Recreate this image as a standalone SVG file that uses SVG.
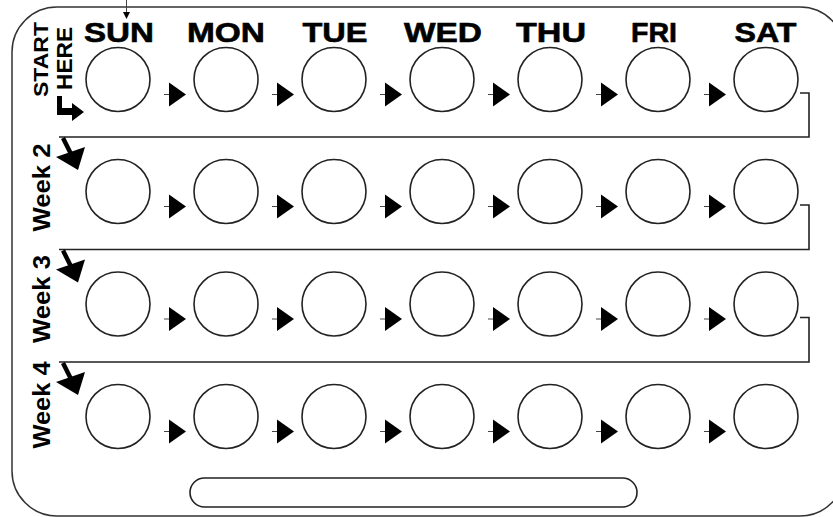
<svg xmlns="http://www.w3.org/2000/svg" xmlns:xlink="http://www.w3.org/1999/xlink" width="833" height="517" viewBox="0 0 833 517">
<style>
.pill{fill:#fff;stroke:#222;stroke-width:1.6}
.line{fill:none;stroke:#222;stroke-width:1.6}
.thin{fill:none;stroke:#444;stroke-width:1}
.blk{fill:#000;stroke:none}
.day{font-family:"Liberation Sans",Arial,sans-serif;font-weight:bold;font-size:28px;fill:#000;stroke:#000;stroke-width:0.6;text-anchor:middle}
.side{font-family:"Liberation Sans",Arial,sans-serif;font-weight:bold;fill:#000;text-anchor:middle}
</style>
<defs>
<g id="step"><line class="thin" x1="-5" y1="0" x2="0" y2="0"/><polygon class="blk" points="0,-12 17,0 0,12"/></g>
<g id="wk"><line x1="63" y1="1" x2="71" y2="17" stroke="#000" stroke-width="4.5"/><polygon class="blk" points="56,20 85,10 78,33"/></g>
</defs>
<rect x="12" y="7" width="833" height="509" rx="45" ry="45" fill="#fff" stroke="#333" stroke-width="1.5"/>
<rect class="pill" x="190" y="478" width="447" height="29" rx="14.5" ry="14.5"/>
<g id="top-arrow"><line class="thin" x1="126.5" y1="0" x2="126.5" y2="13"/><polygon class="blk" points="123,12 130,12 126.5,19"/></g>
<g id="days">
<text class="day" x="119" y="42" textLength="70" lengthAdjust="spacingAndGlyphs">SUN</text>
<text class="day" x="226" y="42" textLength="78" lengthAdjust="spacingAndGlyphs">MON</text>
<text class="day" x="335" y="42" textLength="65" lengthAdjust="spacingAndGlyphs">TUE</text>
<text class="day" x="443" y="42" textLength="78" lengthAdjust="spacingAndGlyphs">WED</text>
<text class="day" x="551" y="42" textLength="70" lengthAdjust="spacingAndGlyphs">THU</text>
<text class="day" x="654" y="42" textLength="46" lengthAdjust="spacingAndGlyphs">FRI</text>
<text class="day" x="765.5" y="42" textLength="62" lengthAdjust="spacingAndGlyphs">SAT</text>
</g>
<g id="start-here">
<text class="side" font-size="21" transform="translate(48,59.5) rotate(-90)" textLength="75" lengthAdjust="spacingAndGlyphs">START</text>
<text class="side" font-size="22" transform="translate(71.5,58.5) rotate(-90)" textLength="63" lengthAdjust="spacingAndGlyphs">HERE</text>
<path class="blk" d="M57,96 H62 V108 H72 V103 L84,112 L72,121 V115 H57 Z"/>
</g>
<g id="weeks">
<text class="side" font-size="24" transform="translate(50,187.5) rotate(-90)" textLength="88" lengthAdjust="spacingAndGlyphs">Week 2</text>
<text class="side" font-size="24" transform="translate(50,299) rotate(-90)" textLength="88" lengthAdjust="spacingAndGlyphs">Week 3</text>
<text class="side" font-size="24" transform="translate(50,405) rotate(-90)" textLength="87" lengthAdjust="spacingAndGlyphs">Week 4</text>
</g>
<g id="connectors">
<path class="line" d="M800,93 H809 V137 H59"/>
<path class="line" d="M800,205 H809 V249.5 H59"/>
<path class="line" d="M800,317.5 H809 V362 H59"/>
<use xlink:href="#wk" transform="translate(0,137)"/>
<use xlink:href="#wk" transform="translate(0,249.5)"/>
<use xlink:href="#wk" transform="translate(0,362)"/>
<use xlink:href="#step" x="169" y="94.5"/><use xlink:href="#step" x="277" y="94.5"/><use xlink:href="#step" x="385" y="94.5"/><use xlink:href="#step" x="493" y="94.5"/><use xlink:href="#step" x="601" y="94.5"/><use xlink:href="#step" x="709" y="94.5"/>
<use xlink:href="#step" x="169" y="206.5"/><use xlink:href="#step" x="277" y="206.5"/><use xlink:href="#step" x="385" y="206.5"/><use xlink:href="#step" x="493" y="206.5"/><use xlink:href="#step" x="601" y="206.5"/><use xlink:href="#step" x="709" y="206.5"/>
<use xlink:href="#step" x="169" y="319"/><use xlink:href="#step" x="277" y="319"/><use xlink:href="#step" x="385" y="319"/><use xlink:href="#step" x="493" y="319"/><use xlink:href="#step" x="601" y="319"/><use xlink:href="#step" x="709" y="319"/>
<use xlink:href="#step" x="169" y="431.5"/><use xlink:href="#step" x="277" y="431.5"/><use xlink:href="#step" x="385" y="431.5"/><use xlink:href="#step" x="493" y="431.5"/><use xlink:href="#step" x="601" y="431.5"/><use xlink:href="#step" x="709" y="431.5"/>
</g>
<g id="w1-sun"><circle class="pill" cx="118" cy="79.5" r="32"/></g>
<g id="w1-mon"><circle class="pill" cx="226" cy="79.5" r="32"/></g>
<g id="w1-tue"><circle class="pill" cx="334" cy="79.5" r="32"/></g>
<g id="w1-wed"><circle class="pill" cx="442" cy="79.5" r="32"/></g>
<g id="w1-thu"><circle class="pill" cx="550" cy="79.5" r="32"/></g>
<g id="w1-fri"><circle class="pill" cx="658" cy="79.5" r="32"/></g>
<g id="w1-sat"><circle class="pill" cx="766" cy="79.5" r="32"/></g>
<g id="w2-sun"><circle class="pill" cx="118" cy="191.5" r="32"/></g>
<g id="w2-mon"><circle class="pill" cx="226" cy="191.5" r="32"/></g>
<g id="w2-tue"><circle class="pill" cx="334" cy="191.5" r="32"/></g>
<g id="w2-wed"><circle class="pill" cx="442" cy="191.5" r="32"/></g>
<g id="w2-thu"><circle class="pill" cx="550" cy="191.5" r="32"/></g>
<g id="w2-fri"><circle class="pill" cx="658" cy="191.5" r="32"/></g>
<g id="w2-sat"><circle class="pill" cx="766" cy="191.5" r="32"/></g>
<g id="w3-sun"><circle class="pill" cx="118" cy="304" r="32"/></g>
<g id="w3-mon"><circle class="pill" cx="226" cy="304" r="32"/></g>
<g id="w3-tue"><circle class="pill" cx="334" cy="304" r="32"/></g>
<g id="w3-wed"><circle class="pill" cx="442" cy="304" r="32"/></g>
<g id="w3-thu"><circle class="pill" cx="550" cy="304" r="32"/></g>
<g id="w3-fri"><circle class="pill" cx="658" cy="304" r="32"/></g>
<g id="w3-sat"><circle class="pill" cx="766" cy="304" r="32"/></g>
<g id="w4-sun"><circle class="pill" cx="118" cy="416.5" r="32"/></g>
<g id="w4-mon"><circle class="pill" cx="226" cy="416.5" r="32"/></g>
<g id="w4-tue"><circle class="pill" cx="334" cy="416.5" r="32"/></g>
<g id="w4-wed"><circle class="pill" cx="442" cy="416.5" r="32"/></g>
<g id="w4-thu"><circle class="pill" cx="550" cy="416.5" r="32"/></g>
<g id="w4-fri"><circle class="pill" cx="658" cy="416.5" r="32"/></g>
<g id="w4-sat"><circle class="pill" cx="766" cy="416.5" r="32"/></g>
</svg>
